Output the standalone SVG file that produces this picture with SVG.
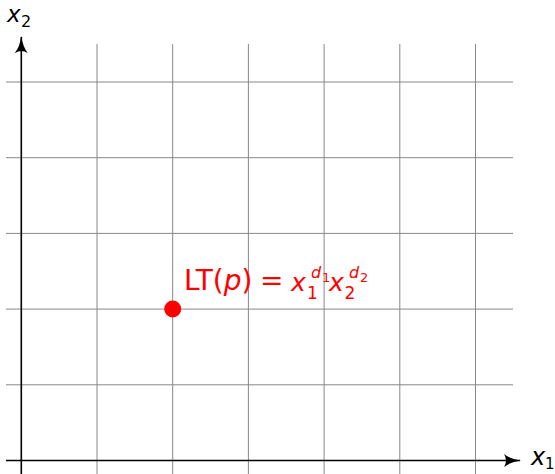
<svg xmlns="http://www.w3.org/2000/svg" width="555" height="474" viewBox="0 0 555 474">
<style>
.grid{stroke:#888;stroke-width:1;fill:none}
.axis{stroke:#000;stroke-width:1.6;fill:none}
.lbl{font-family:"DejaVu Sans",sans-serif;fill:#000}
.red{font-family:"DejaVu Sans",sans-serif;fill:#ff0000}
.it{font-style:italic}
</style>
<defs>
<marker id="arr" viewBox="0 0 17 13" refX="16" refY="6.5" markerWidth="17" markerHeight="13" markerUnits="userSpaceOnUse" orient="auto">
<path d="M0,0 Q6,5 17,6.5 Q6,8 0,13 Q4,6.5 0,0 Z" fill="#000"/>
</marker>
</defs>
<g id="grid" class="grid">
<line x1="97" y1="44" x2="97" y2="474"/>
<line x1="172.7" y1="44" x2="172.7" y2="474"/>
<line x1="248.4" y1="44" x2="248.4" y2="474"/>
<line x1="324.1" y1="44" x2="324.1" y2="474"/>
<line x1="399.8" y1="44" x2="399.8" y2="474"/>
<line x1="475.5" y1="44" x2="475.5" y2="474"/>
<line x1="6" y1="82" x2="513" y2="82"/>
<line x1="6" y1="157.7" x2="513" y2="157.7"/>
<line x1="6" y1="233.4" x2="513" y2="233.4"/>
<line x1="6" y1="309.1" x2="513" y2="309.1"/>
<line x1="6" y1="384.8" x2="513" y2="384.8"/>
</g>
<g id="connectors">
<line class="axis" x1="6" y1="460.5" x2="520" y2="460.5" marker-end="url(#arr)"/>
<line class="axis" x1="21.3" y1="474" x2="21.3" y2="37" marker-end="url(#arr)"/>
</g>
<g id="x1label"><text class="lbl it" x="531" y="465" font-size="24">x</text><text class="lbl" x="545" y="469" font-size="15">1</text></g>
<g id="x2label"><text class="lbl it" x="7" y="22" font-size="23">x</text><text class="lbl" x="21" y="26.5" font-size="16">2</text></g>
<g id="point">
<circle cx="172.7" cy="309.1" r="8.5" fill="#ff0000"/>
<text class="red" x="184" y="290" font-size="28">LT(<tspan class="it">p</tspan>)<tspan x="260">=</tspan></text>
<text class="red it" x="291" y="291" font-size="25">x</text>
<text class="red" x="307" y="299" font-size="17">1</text>
<text class="red it" x="311" y="278" font-size="16">d</text>
<text class="red" x="322" y="281.5" font-size="13">1</text>
<text class="red it" x="329" y="291" font-size="25">x</text>
<text class="red" x="344.5" y="299" font-size="17">2</text>
<text class="red it" x="349" y="278" font-size="16">d</text>
<text class="red" x="360" y="281.5" font-size="13">2</text>
</g>
</svg>
